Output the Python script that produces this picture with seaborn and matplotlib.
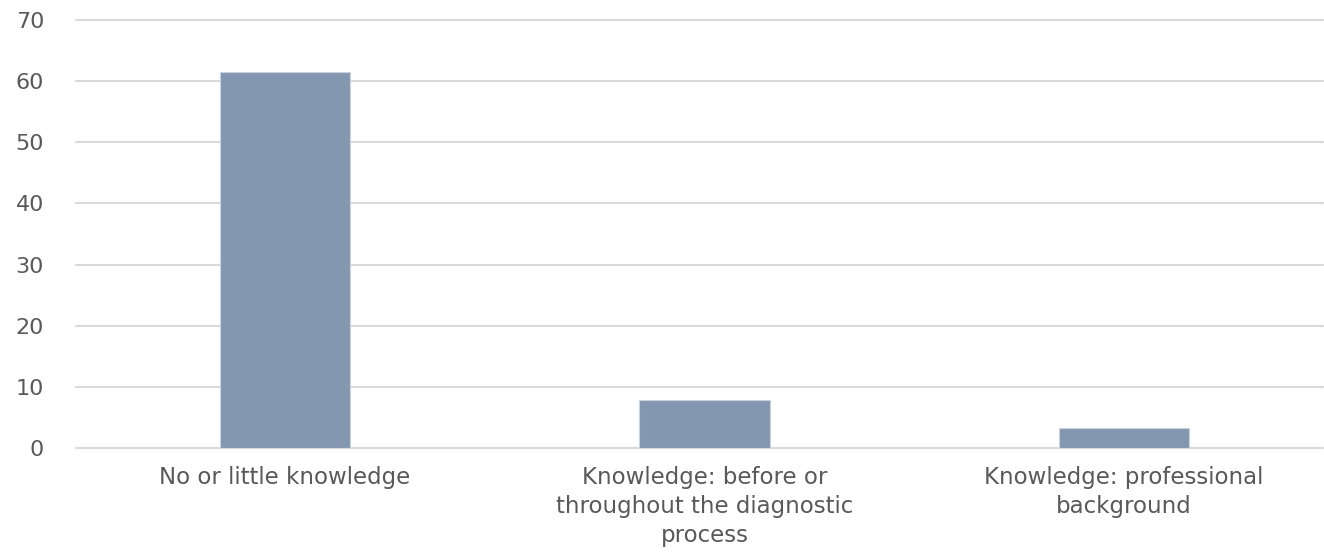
import matplotlib
matplotlib.use("Agg")
import matplotlib.pyplot as plt
import seaborn as sns
import pandas as pd

categories = [
    "No or little knowledge",
    "Knowledge: before or\nthroughout the diagnostic\nprocess",
    "Knowledge: professional\nbackground",
]
values = [61.5, 7.8, 3.2]
y_ticks = [0, 10, 20, 30, 40, 50, 60, 70]

sns.set_theme(style="white")
plt.rcParams["font.family"] = ["DejaVu Sans"]

df = pd.DataFrame({"category": categories, "value": values})

fig = plt.figure(figsize=(13.24, 5.52), dpi=100)
ax = fig.add_axes([76 / 1324, 104 / 552, 1247 / 1324, 428 / 552])

sns.barplot(data=df, x="category", y="value", color="#8497B0", saturation=1,
            width=0.31, edgecolor="#C9D3E0", linewidth=0.8, ax=ax, zorder=3)

ax.set_xlim(-0.498, 2.474)
ax.set_ylim(0, 70)
ax.set_yticks(y_ticks)
ax.yaxis.grid(True, color="#D9D9D9", linewidth=1.5, zorder=0)
ax.xaxis.grid(False)
for gl in ax.get_ygridlines():
    gl.set_clip_on(False)
for s in ax.spines.values():
    s.set_visible(False)

ax.set_xlabel("")
ax.set_ylabel("")
ax.tick_params(axis="y", length=0, pad=23, labelsize=16, labelcolor="#595959")
ax.tick_params(axis="x", length=0, pad=13, labelsize=16.5, labelcolor="#595959")
for lbl in ax.get_xticklabels():
    lbl.set_linespacing(1.32)
    lbl.set_ha("center")

fig.savefig("out.png", dpi=100, facecolor="white")
